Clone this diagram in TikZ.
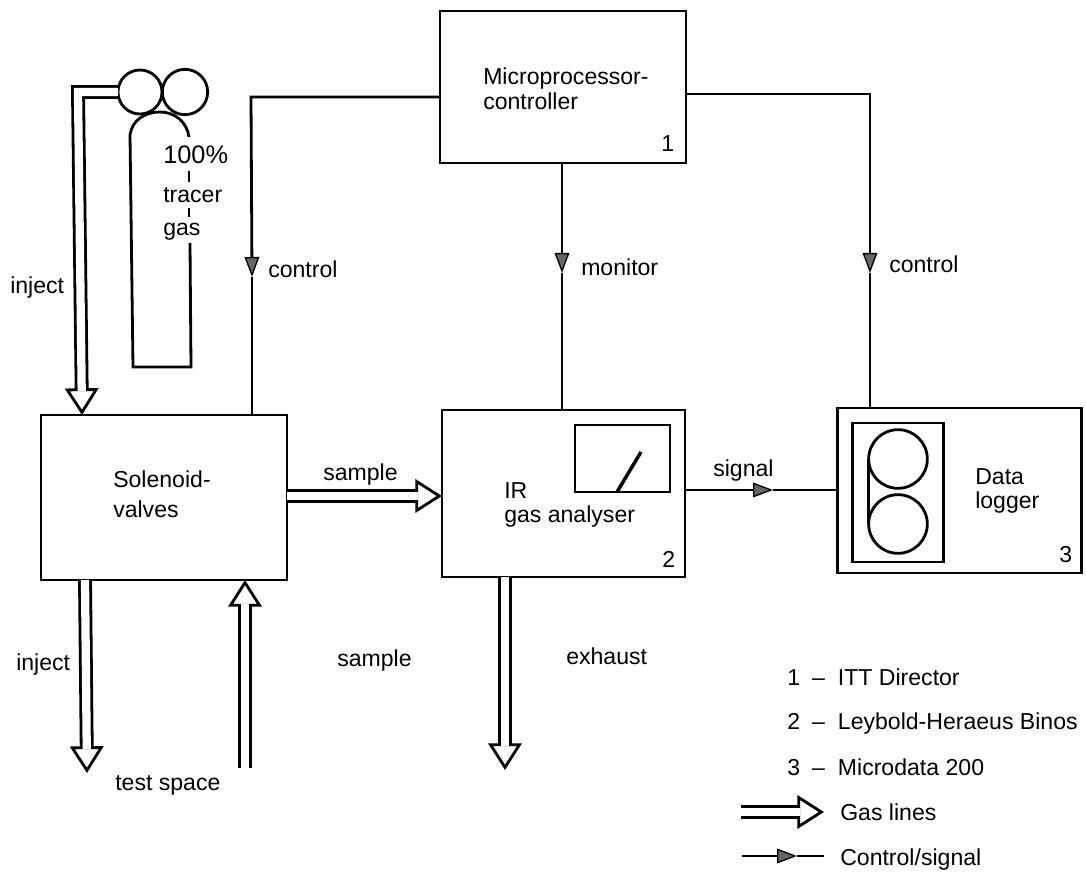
\documentclass[tikz,border=0pt]{standalone}
\usepackage{fontspec}
\setmainfont{Liberation Sans}
\usetikzlibrary{arrows.meta, positioning, calc}
\newcommand{\keyline}[2]{\makebox[38pt][l]{#1\hspace{9pt}--}#2}
\begin{document}
\begin{tikzpicture}[
    x=0.75pt, y=-0.75pt,
    every node/.style={font=\fontsize{17.3}{18.5}\selectfont},
    blockbox/.style={draw, line width=2.1pt, inner sep=0pt, outer sep=0pt},
    roundbox/.style={draw, circle, line width=2.1pt, inner sep=0pt, outer sep=0pt},
    lbl/.style={anchor=base west, inner sep=0pt},
    multilbl/.style={anchor=west, align=left, inner sep=0pt},
    sigline/.style={line width=2.1pt},
    sigtip/.style={-{Triangle[length=15pt, width=11pt, fill=black!60, line width=1pt]}},
    gasline/.style={line width=10.4pt, line join=miter,
      -{Triangle[open, fill=white, length=20pt, width=25pt, line width=2.1pt]},
      postaction={draw=white, -, line width=6.2pt, shorten >=18pt}},
  ]
  \useasboundingbox (0,0) rectangle (1086,873);

  % blocks
  \node[blockbox, minimum width=184.5pt, minimum height=114pt] (micro) at (563,87) {};
  \node[blockbox, minimum width=184.5pt, minimum height=123.75pt] (valves) at (164,497.5) {};
  \node[blockbox, minimum width=182.25pt, minimum height=125.25pt] (analyser) at (563.5,493.5) {};
  \node[blockbox, minimum width=183pt, minimum height=123.75pt] (logger) at (959.5,490.5) {};

  % meter in the analyser
  \node[blockbox, minimum width=71.25pt, minimum height=50.25pt] (meter) at (622.5,458.5) {};
  \coordinate (needlefoot) at (617,492);
  \coordinate (needletop) at (641,452);
  \draw[line width=2.6pt] (needlefoot) -- (needletop);

  % tape reels in the logger
  \node[blockbox, minimum width=68.25pt, minimum height=104.25pt] (panel) at (898,492.5) {};
  \node[roundbox, minimum size=44pt] (reelA) at (898,459) {};
  \node[roundbox, minimum size=44pt] (reelB) at (898,524) {};
  \draw[sigline] (reelA.west) -- (reelB.west);

  % tracer gas bottle
  \node[roundbox, minimum size=33pt] (regA) at (140,92) {};
  \node[roundbox, minimum size=34pt] (regB) at (185,92) {};
  \coordinate (bottleA) at (130,135);
  \coordinate (bottleB) at (133,367);
  \coordinate (bottleC) at (191,367);
  \coordinate (bottleD) at (190,243);
  \coordinate (bottleE) at (189,137);
  \draw[sigline, line join=miter] (bottleD) -- (bottleC) -- (bottleB) -- (bottleA)
    .. controls (132,120) and (145,112) .. (160,112)
    .. controls (175,112) and (187,122) .. (bottleE);
  \coordinate (dashA) at (189,171);
  \coordinate (dashB) at (189,182);
  \coordinate (dashC) at (189,208);
  \coordinate (dashD) at (189,217);
  \draw[sigline] (dashA) -- (dashB);
  \draw[sigline] (dashC) -- (dashD);

  % control and signal lines
  \coordinate (leftcorner) at (251,97);
  \coordinate (lefttip) at (252,277);
  \coordinate (righttip) at (870,273);
  \coordinate (midtip) at (562,273);
  \coordinate (signaltip) at (773,490);
  \draw[sigline, sigtip] (micro.west |- leftcorner) -- (leftcorner) -- (lefttip);
  \draw[sigline] (lefttip) -- (valves.north -| lefttip);
  \draw[sigline, sigtip] (micro.south -| midtip) -- (midtip);
  \draw[sigline] (midtip) -- (analyser.north -| midtip);
  \draw[sigline, sigtip] ($(micro.east)+(0,7)$) -| (righttip);
  \draw[sigline] (righttip) -- (logger.north -| righttip);
  \draw[sigline, sigtip] (analyser.east |- signaltip) -- (signaltip);
  \draw[sigline] (signaltip) -- (logger.west |- signaltip);

  % gas lines
  \coordinate (injectbend) at (78,92);
  \coordinate (injecttip) at (82,415);
  \coordinate (injectstart) at (85,580);
  \coordinate (injectend) at (87,773);
  \coordinate (spacestart) at (245,768);
  \coordinate (exhaustend) at (505,770);
  \coordinate (samplemid) at (300,496);
  \draw[gasline] (regA.west) -- (injectbend) -- (injecttip);
  \draw[gasline] (valves.south -| injectstart) -- (injectend);
  \draw[gasline] (spacestart) -- (valves.south -| spacestart);
  \draw[gasline] (valves.east |- samplemid) -- (analyser.west |- samplemid);
  \draw[gasline] (analyser.south -| exhaustend) -- (exhaustend);

  % texts
  \node[multilbl] (microtext) at (483,89) {Microprocessor-\\controller};
  \node[multilbl] (valvestext) at (113,494) {Solenoid-\\[4pt]valves};
  \node[multilbl] (analysertext) at (504,505) {IR\\gas analyser};
  \node[multilbl] (loggertext) at (975,491) {Data\\logger};
  \node[lbl] (microno) at (661,152) {1};
  \node[lbl] (analyserno) at (662,567) {2};
  \node[lbl] (loggerno) at (1059,562) {3};
  \node[lbl, font=\fontsize{19}{20}\selectfont] (gastext) at (163,164) {100\%};
  \node[lbl] (gastextB) at (163,203) {tracer};
  \node[lbl] (gastextC) at (163,236) {gas};
  \node[lbl] (injecttop) at (10,294) {inject};
  \node[lbl] (controlA) at (268,278) {control};
  \node[lbl] (monitortext) at (581,276) {monitor};
  \node[lbl] (controlB) at (889,273) {control};
  \node[lbl] (sampleA) at (323,481) {sample};
  \node[lbl] (signaltext) at (713,477) {signal};
  \node[lbl] (injectlow) at (16,670) {inject};
  \node[lbl] (sampleB) at (337,666) {sample};
  \node[lbl] (exhausttext) at (566,664) {exhaust};
  \node[lbl] (spacetext) at (115,790) {test space};

  % key
  \node[lbl] (keyA) at (787,685) {\keyline{1}{ITT Director}};
  \node[lbl] (keyB) at (787,729) {\keyline{2}{Leybold-Heraeus Binos}};
  \node[lbl] (keyC) at (787,775) {\keyline{3}{Microdata 200}};
  \node[lbl] (keyD) at (840,820) {Gas lines};
  \node[lbl] (keyE) at (840,865) {Control/signal};
  \coordinate (keygasstart) at (741,812);
  \coordinate (keygastip) at (824,812);
  \coordinate (keysigstart) at (742,856);
  \coordinate (keysigtip) at (797,856);
  \coordinate (keysigend) at (824,856);
  \draw[gasline] (keygasstart) -- (keygastip);
  \draw[sigline, sigtip] (keysigstart) -- (keysigtip);
  \draw[sigline] (keysigtip) -- (keysigend);
\end{tikzpicture}
\end{document}
